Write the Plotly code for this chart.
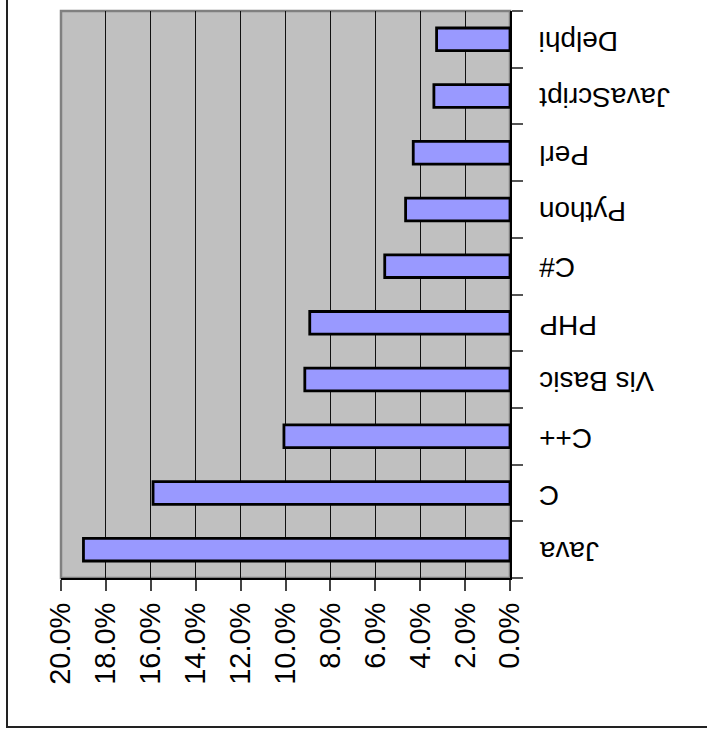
import plotly.graph_objects as go

languages = ["Java", "C", "C++", "Vis Basic", "PHP", "C#", "Python", "Perl", "JavaScript", "Delphi"]
shares = [0.190, 0.159, 0.1007, 0.0914, 0.0892, 0.0558, 0.0465, 0.0431, 0.0339, 0.0327]
tick_vals = [0.0, 0.02, 0.04, 0.06, 0.08, 0.10, 0.12, 0.14, 0.16, 0.18, 0.20]

W, H = 707, 742
L, R, T, B = 61, 197, 11, 164
pw, ph = W - L - R, H - T - B

fig = go.Figure(go.Bar(
    x=shares, y=languages, orientation="h",
    marker=dict(color="#9999FF", line=dict(color="black", width=2.8)),
))

font = "Liberation Sans, Arial, sans-serif"

annotations = [
    dict(text=lang, x=(537 - L) / pw, xref="paper", y=lang, yref="y",
         xanchor="left", yanchor="middle", yshift=-2, textangle=180, showarrow=False,
         font=dict(family=font, size=28, color="black"))
    for lang in languages
]

fig.update_layout(
    width=W, height=H,
    margin=dict(l=L, r=R, t=T, b=B, pad=0),
    paper_bgcolor="white", plot_bgcolor="#C0C0C0",
    bargap=0.6, showlegend=False,
    xaxis=dict(
        range=[0.2, 0.0], tickvals=tick_vals, tickformat=".1%",
        tickangle=-90, ticks="outside", ticklen=11, tickcolor="#444", tickwidth=1.5,
        showgrid=True, gridcolor="#111", gridwidth=1,
        showline=True, linecolor="black", linewidth=2,
        zeroline=False, tickfont=dict(family=font, size=29, color="black"),
        fixedrange=True,
    ),
    yaxis=dict(
        side="right", ticks="outside", ticklen=11, tickcolor="#555",
        tickwidth=1.5, tickson="boundaries", showticklabels=False,
        showline=True, linecolor="black", linewidth=2, showgrid=False,
    ),
    annotations=annotations,
    shapes=[
        dict(type="rect", xref="paper", yref="paper", x0=0, x1=1, y0=0, y1=1,
             line=dict(color="#808080", width=2.5), layer="below"),
        dict(type="rect", xref="paper", yref="paper",
             x0=(7 - L) / pw, x1=(730 - L) / pw,
             y0=(T + ph - 727) / ph, y1=(T + ph + 20) / ph,
             line=dict(color="#222", width=2)),
    ],
)

fig.write_html("out.html", config={"displayModeBar": False},
               post_script="document.body.style.margin='0';")
